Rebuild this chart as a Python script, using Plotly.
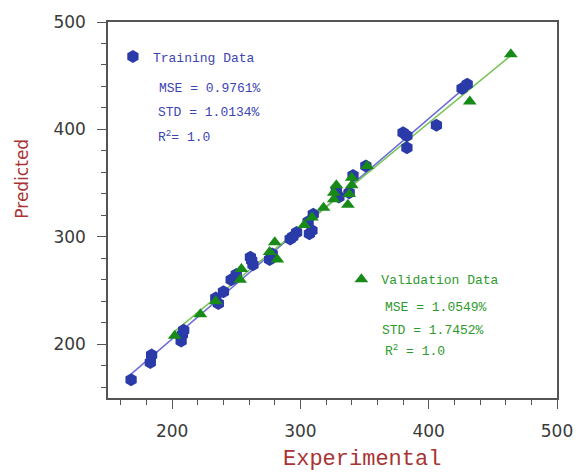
import numpy as np
import plotly.graph_objects as go

# Training set: experimental vs. predicted
train_exp = [168, 183, 184, 207, 208, 209, 234, 236, 240, 246, 250, 261, 262, 263,
             276, 278, 292, 294, 297, 307, 309, 306, 310, 328, 330, 338, 341, 351,
             380, 383, 383, 406, 426, 430]
train_pred = [167, 183, 190, 203, 209, 213, 243, 238, 249, 260, 265, 281, 278, 274,
              279, 284, 298, 300, 304, 303, 306, 314, 321, 344, 337, 341, 357, 366,
              397, 394, 383, 404, 438, 442]

# Validation set: experimental vs. predicted
val_exp = [202, 222, 234, 253, 254, 276, 280, 282, 303, 309, 318, 326, 326, 328,
           337, 338, 340, 340, 352, 432, 464]
val_pred = [208, 228, 240, 260, 270, 286, 295, 279, 311, 318, 327, 335, 341, 348,
            330, 340, 348, 355, 366, 426, 470]

train_stats = ["MSE = 0.9761%", "STD = 1.0134%", "R<sup>2</sup>= 1.0"]
val_stats = ["MSE = 1.0549%", "STD = 1.7452%", "R<sup>2</sup> = 1.0"]

BLUE = "#2a3aa8"
BLUE_TXT = "#3c44b4"
BLUE_LINE = "#6c6cd8"
GREEN = "#178a17"
GREEN_TXT = "#2e9a2e"
GREEN_LINE = "#78c455"
RED = "#a83434"
MONO = "Liberation Mono, Courier New, monospace"


def fit_line(x, y):
    k, b = np.polyfit(x, y, 1)
    xs = np.array([min(x), max(x)])
    return xs, k * xs + b


fig = go.Figure()

tx, ty = fit_line(train_exp, train_pred)
vx, vy = fit_line(val_exp, val_pred)

fig.add_trace(go.Scatter(x=tx, y=ty, mode="lines", showlegend=False,
                         line=dict(color=BLUE_LINE, width=1.5)))
fig.add_trace(go.Scatter(x=vx, y=vy, mode="lines", showlegend=False,
                         line=dict(color=GREEN_LINE, width=1.5)))

fig.add_trace(go.Scatter(x=train_exp, y=train_pred, mode="markers",
                         name="Training Data", legend="legend",
                         marker=dict(symbol="hexagon", size=13, color=BLUE)))
fig.add_trace(go.Scatter(x=val_exp, y=val_pred, mode="markers",
                         name="Validation Data", legend="legend2",
                         marker=dict(symbol="triangle-up", size=12, color=GREEN)))

axis_common = dict(
    range=[150, 500], dtick=100, tick0=0,
    showgrid=False, zeroline=False,
    showline=True, linecolor="#555555", linewidth=1.5, mirror=True,
    ticks="outside", ticklen=9, tickwidth=1.3, tickcolor="#555555",
    tickfont=dict(family="DejaVu Sans", size=17, color="#3a3a3a"),
    ticklabelstandoff=8,
    minor=dict(dtick=20, tick0=0, ticks="outside", ticklen=5,
               tickwidth=1.2, tickcolor="#555555"),
)

fig.update_xaxes(**axis_common)
fig.update_yaxes(**axis_common)

L, R, T, B = 108, 21, 18, 77
W, H = 585, 475
pw, ph = W - L - R, H - T - B


def px(x):
    return (x - L) / pw


def py(y):
    return (H - B - y) / ph


annotations = []
for text, x, y in zip(train_stats, [158, 157, 157], [85, 109, 134]):
    annotations.append(dict(text=text, x=px(x), y=py(y), xref="paper", yref="paper",
                            xanchor="left", yanchor="middle", showarrow=False,
                            font=dict(family=MONO, size=13, color=BLUE_TXT)))
for text, x, y in zip(val_stats, [387, 384, 387], [307, 330, 350]):
    annotations.append(dict(text=text, x=px(x), y=py(y), xref="paper", yref="paper",
                            xanchor="left", yanchor="middle", showarrow=False,
                            font=dict(family=MONO, size=13, color=GREEN_TXT)))

# axis titles
annotations.append(dict(text="Experimental", x=px(366), y=py(460), xref="paper",
                        yref="paper", xanchor="center", yanchor="middle",
                        showarrow=False,
                        font=dict(family=MONO, size=22, color=RED)))
annotations.append(dict(text="Predicted", x=px(21), y=py(176), xref="paper",
                        yref="paper", xanchor="center", yanchor="middle",
                        showarrow=False, textangle=-90,
                        font=dict(family="DejaVu Sans", size=17, color=RED)))

fig.update_layout(
    width=W, height=H,
    margin=dict(l=L, r=R, t=T, b=B),
    paper_bgcolor="white", plot_bgcolor="white",
    annotations=annotations,
    legend=dict(x=px(113), y=py(53), xanchor="left", yanchor="middle",
                bgcolor="rgba(0,0,0,0)", borderwidth=0,
                font=dict(family=MONO, size=13, color=BLUE_TXT)),
    legend2=dict(x=px(345), y=py(278), xanchor="left", yanchor="middle",
                 bgcolor="rgba(0,0,0,0)", borderwidth=0,
                 font=dict(family=MONO, size=13, color=GREEN_TXT)),
)

fig.write_html("out.html")
